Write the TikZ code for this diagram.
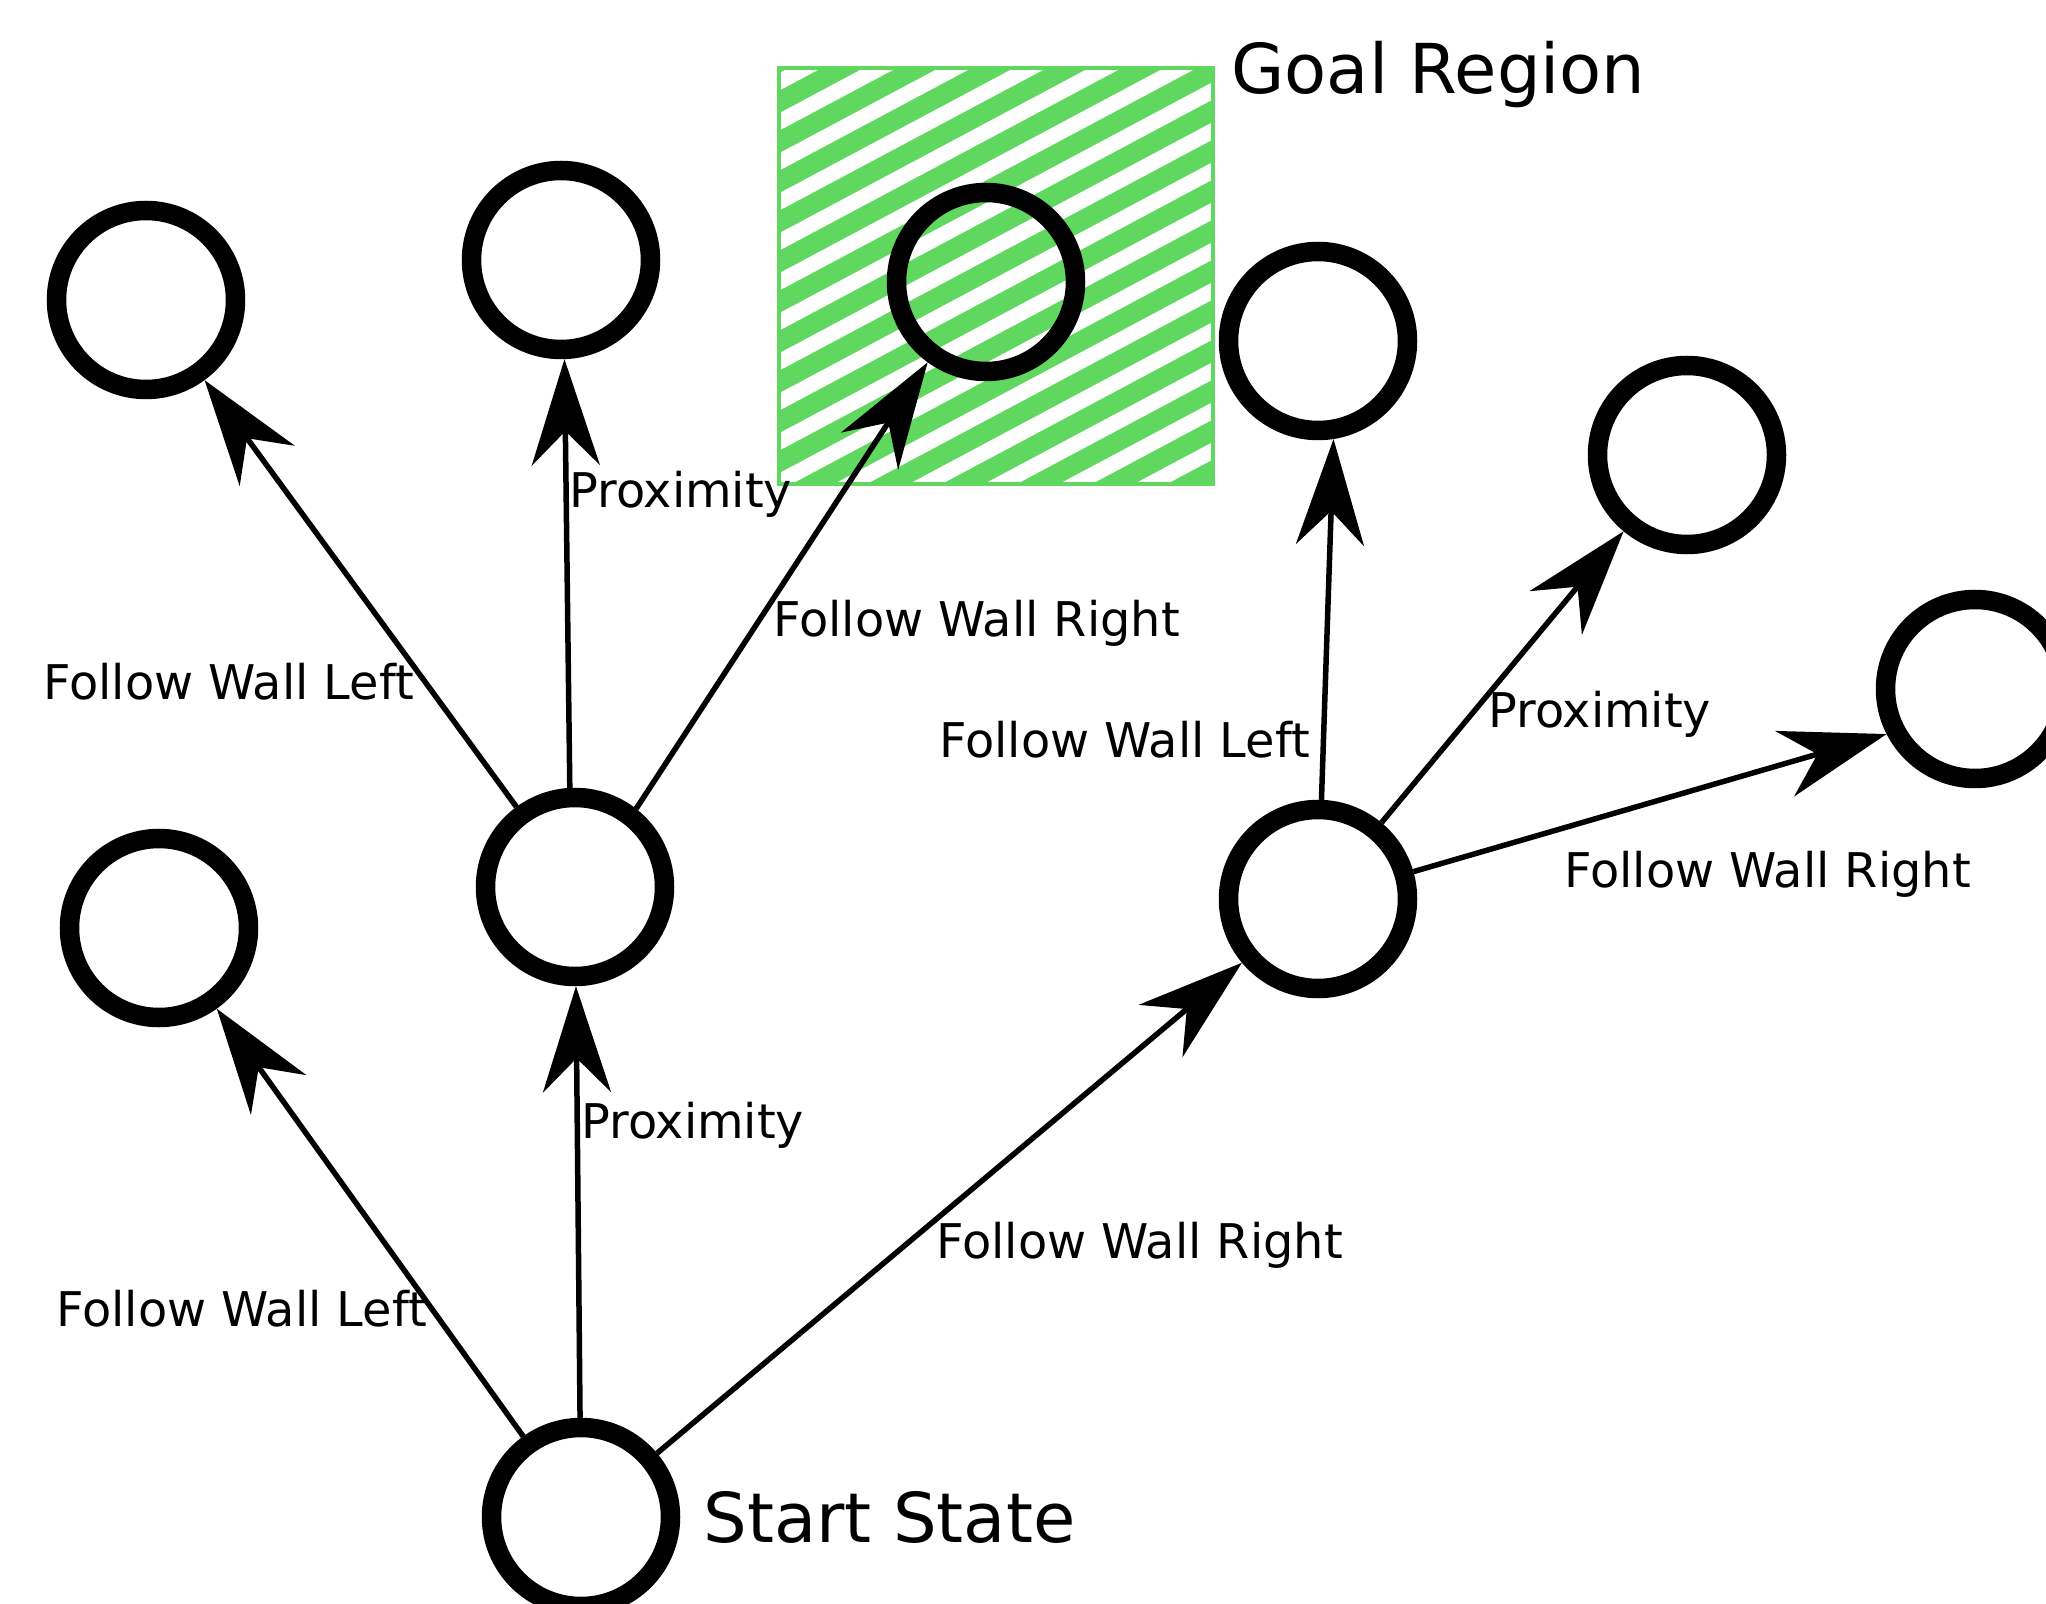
\documentclass[tikz,border=0pt]{standalone}
\usepackage{fontspec}
\setmainfont{DejaVu Sans}
\usetikzlibrary{arrows.meta}
\definecolor{goalgreen}{RGB}{96,216,96}
\begin{document}
\begin{tikzpicture}[x=0.5pt,y=-0.5pt,
  state/.style={circle, draw=black, line width=9.75pt, minimum size=89.5pt, inner sep=0pt, outer sep=4.875pt},
  trans/.style={line width=2.75pt, -{Stealth[length=53pt,width=34pt,inset=17pt]}},
  lbl/.style={anchor=base west, inner sep=0pt, font=\fontsize{23.9pt}{28pt}\selectfont},
  biglbl/.style={anchor=base west, inner sep=0pt, font=\fontsize{34.4pt}{40pt}\selectfont},
  hatch/.style={goalgreen, line width=9.8pt}]
\fill[white] (0,0) rectangle (2046,1604);
\useasboundingbox (0,0) rectangle (2046,1604);

% goal region
\begin{scope}
  \clip (779,68) rectangle (1213,484);
  \foreach \k in {-2,...,17}
    \draw[hatch] (700,{144.1+40*\k}) -- (1300,{-175.7+40*\k});
\end{scope}
\draw[goalgreen, line width=2pt] (779,68) rectangle (1213,484);

% states
\node[state] (tl1) at (146,300) {};
\node[state] (tl2) at (561,260) {};
\node[state] (goal) at (986,282) {};
\node[state] (r1) at (1318,341) {};
\node[state] (r2) at (1687,455) {};
\node[state] (r3) at (1975,689) {};
\node[state] (ml) at (159,928) {};
\node[state] (m) at (575,887) {};
\node[state] (rm) at (1318,899) {};
\node[state] (start) at (581,1517) {};

% transitions
\draw[trans] (start) -- (ml);
\draw[trans] (start) -- (m);
\draw[trans] (start) -- (rm);
\draw[trans] (m) -- (tl1);
\draw[trans] (m.93) -- (tl2.-88);
\draw[trans] (m.52) -- (goal.234);
\draw[trans] (rm.88) -- (r1.-81);
\draw[trans] (rm) -- (r2);
\draw[trans] (rm.16) -- (r3.207);

% labels
\node[lbl] (l1) at (43,699) {Follow Wall Left};
\node[lbl] (l2) at (569,508) {Proximity};
\node[lbl] (l3) at (773,637) {Follow Wall Right};
\node[lbl] (l4) at (939,757) {Follow Wall Left};
\node[lbl] (l5) at (1488,727) {Proximity};
\node[lbl] (l6) at (1564,887) {Follow Wall Right};
\node[lbl] (l7) at (581,1138) {Proximity};
\node[lbl] (l8) at (936,1258) {Follow Wall Right};
\node[lbl] (l9) at (56,1326) {Follow Wall Left};
\node[biglbl] (goaltxt) at (1231,94) {Goal Region};
\node[biglbl] (starttxt) at (703,1542) {Start State};
\end{tikzpicture}
\end{document}
